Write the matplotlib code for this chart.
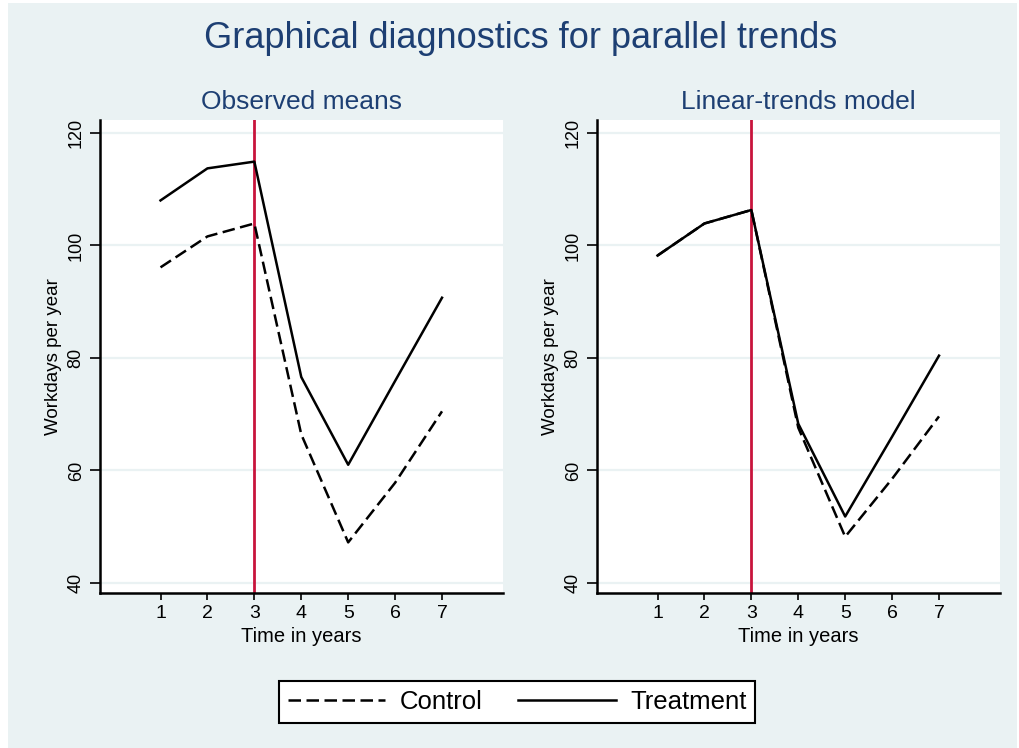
import matplotlib
matplotlib.use("Agg")
import matplotlib.pyplot as plt
from matplotlib.patches import Rectangle
from matplotlib.lines import Line2D

# ---- data ----
years = [1, 2, 3, 4, 5, 6, 7]
obs_control = [96.1, 101.6, 103.9, 66.4, 47.2, 57.8, 70.5]
obs_treatment = [108.0, 113.7, 114.9, 76.6, 61.0, 75.9, 90.7]
lin_control = [98.2, 103.9, 106.3, 67.6, 48.2, 58.5, 69.6]
lin_treatment = [98.2, 103.9, 106.3, 68.3, 51.8, 66.0, 80.4]
treat_start = 3
yticks = [40, 60, 80, 100, 120]
panel_titles = ["Observed means", "Linear-trends model"]
main_title = "Graphical diagnostics for parallel trends"
xlabel = "Time in years"
ylabel = "Workdays per year"
series_labels = ["Control", "Treatment"]

BG = "#EAF2F3"
RED = "#C8143C"
NAVY = "#1d3f73"

plt.rcParams['font.family'] = ['Liberation Sans', 'DejaVu Sans']

W, H = 1019, 748
fig = plt.figure(figsize=(W / 100, H / 100), dpi=100)
fig.patch.set_facecolor("white")
fig.patches.append(Rectangle((8 / W, 0), (W - 10) / W, (H - 3) / H,
                             transform=fig.transFigure, facecolor=BG,
                             edgecolor="none", zorder=-10))

def px_axes(x0, x1, y0, y1):
    ax = fig.add_axes([x0 / W, 1 - y1 / H, (x1 - x0) / W, (y1 - y0) / H])
    ax.set_zorder(2)
    return ax

axes = [px_axes(100, 503, 120, 593), px_axes(597, 1000, 120, 593)]
data = [(obs_control, obs_treatment), (lin_control, lin_treatment)]

for ax, (ctrl, trt), ttl in zip(axes, data, panel_titles):
    ax.set_facecolor("white")
    ax.set_xlim(-0.29, 8.3)
    ax.set_ylim(38.2, 122.3)
    for yv in yticks:
        ax.axhline(yv, color=BG, lw=1.6, zorder=1)
    ax.axvline(treat_start, color=RED, lw=2, zorder=2)
    ax.plot(years, ctrl, color="black", lw=1.8, ls=(0, (5, 2.2)), zorder=3)
    ax.plot(years, trt, color="black", lw=1.8, ls="-", zorder=3)
    ax.set_xticks(years)
    ax.set_yticks(yticks)
    ax.set_yticklabels([str(v) for v in yticks], rotation=90, va="center")
    ax.tick_params(axis="y", length=7, width=1.2, pad=4, labelsize=13)
    ax.tick_params(axis="x", length=5, width=1.2, pad=4, labelsize=14)
    for s in ["top", "right"]:
        ax.spines[s].set_visible(False)
    for s in ["left", "bottom"]:
        ax.spines[s].set_linewidth(1.8)
    ax.set_xlabel(xlabel, fontsize=14.5)
    ax.xaxis.set_label_coords(0.5, -0.072)
    ax.set_ylabel(ylabel, fontsize=13.5)
    ax.yaxis.set_label_coords(-0.095, 0.5)
    ax.set_title(ttl, fontsize=19, color=NAVY, pad=8)

fig.text(521 / W, 1 - 48 / H, main_title, fontsize=26, color=NAVY,
         ha="center", va="baseline")

handles = [Line2D([], [], color="black", lw=1.8, ls=(0, (5, 2.2))),
           Line2D([], [], color="black", lw=1.8, ls="-")]
leg = fig.legend(handles, series_labels, ncol=2, loc="center",
                 bbox_to_anchor=(517 / W, 1 - 702 / H), fontsize=18.5,
                 handlelength=3.8, handletextpad=0.55, columnspacing=1.4,
                 borderpad=0.35, frameon=True, fancybox=False)
leg.get_frame().set_edgecolor("black")
leg.get_frame().set_linewidth(1.5)
leg.get_frame().set_facecolor("white")
leg.get_frame().set_alpha(1)

fig.savefig("out.png", dpi=100, facecolor=fig.get_facecolor())
